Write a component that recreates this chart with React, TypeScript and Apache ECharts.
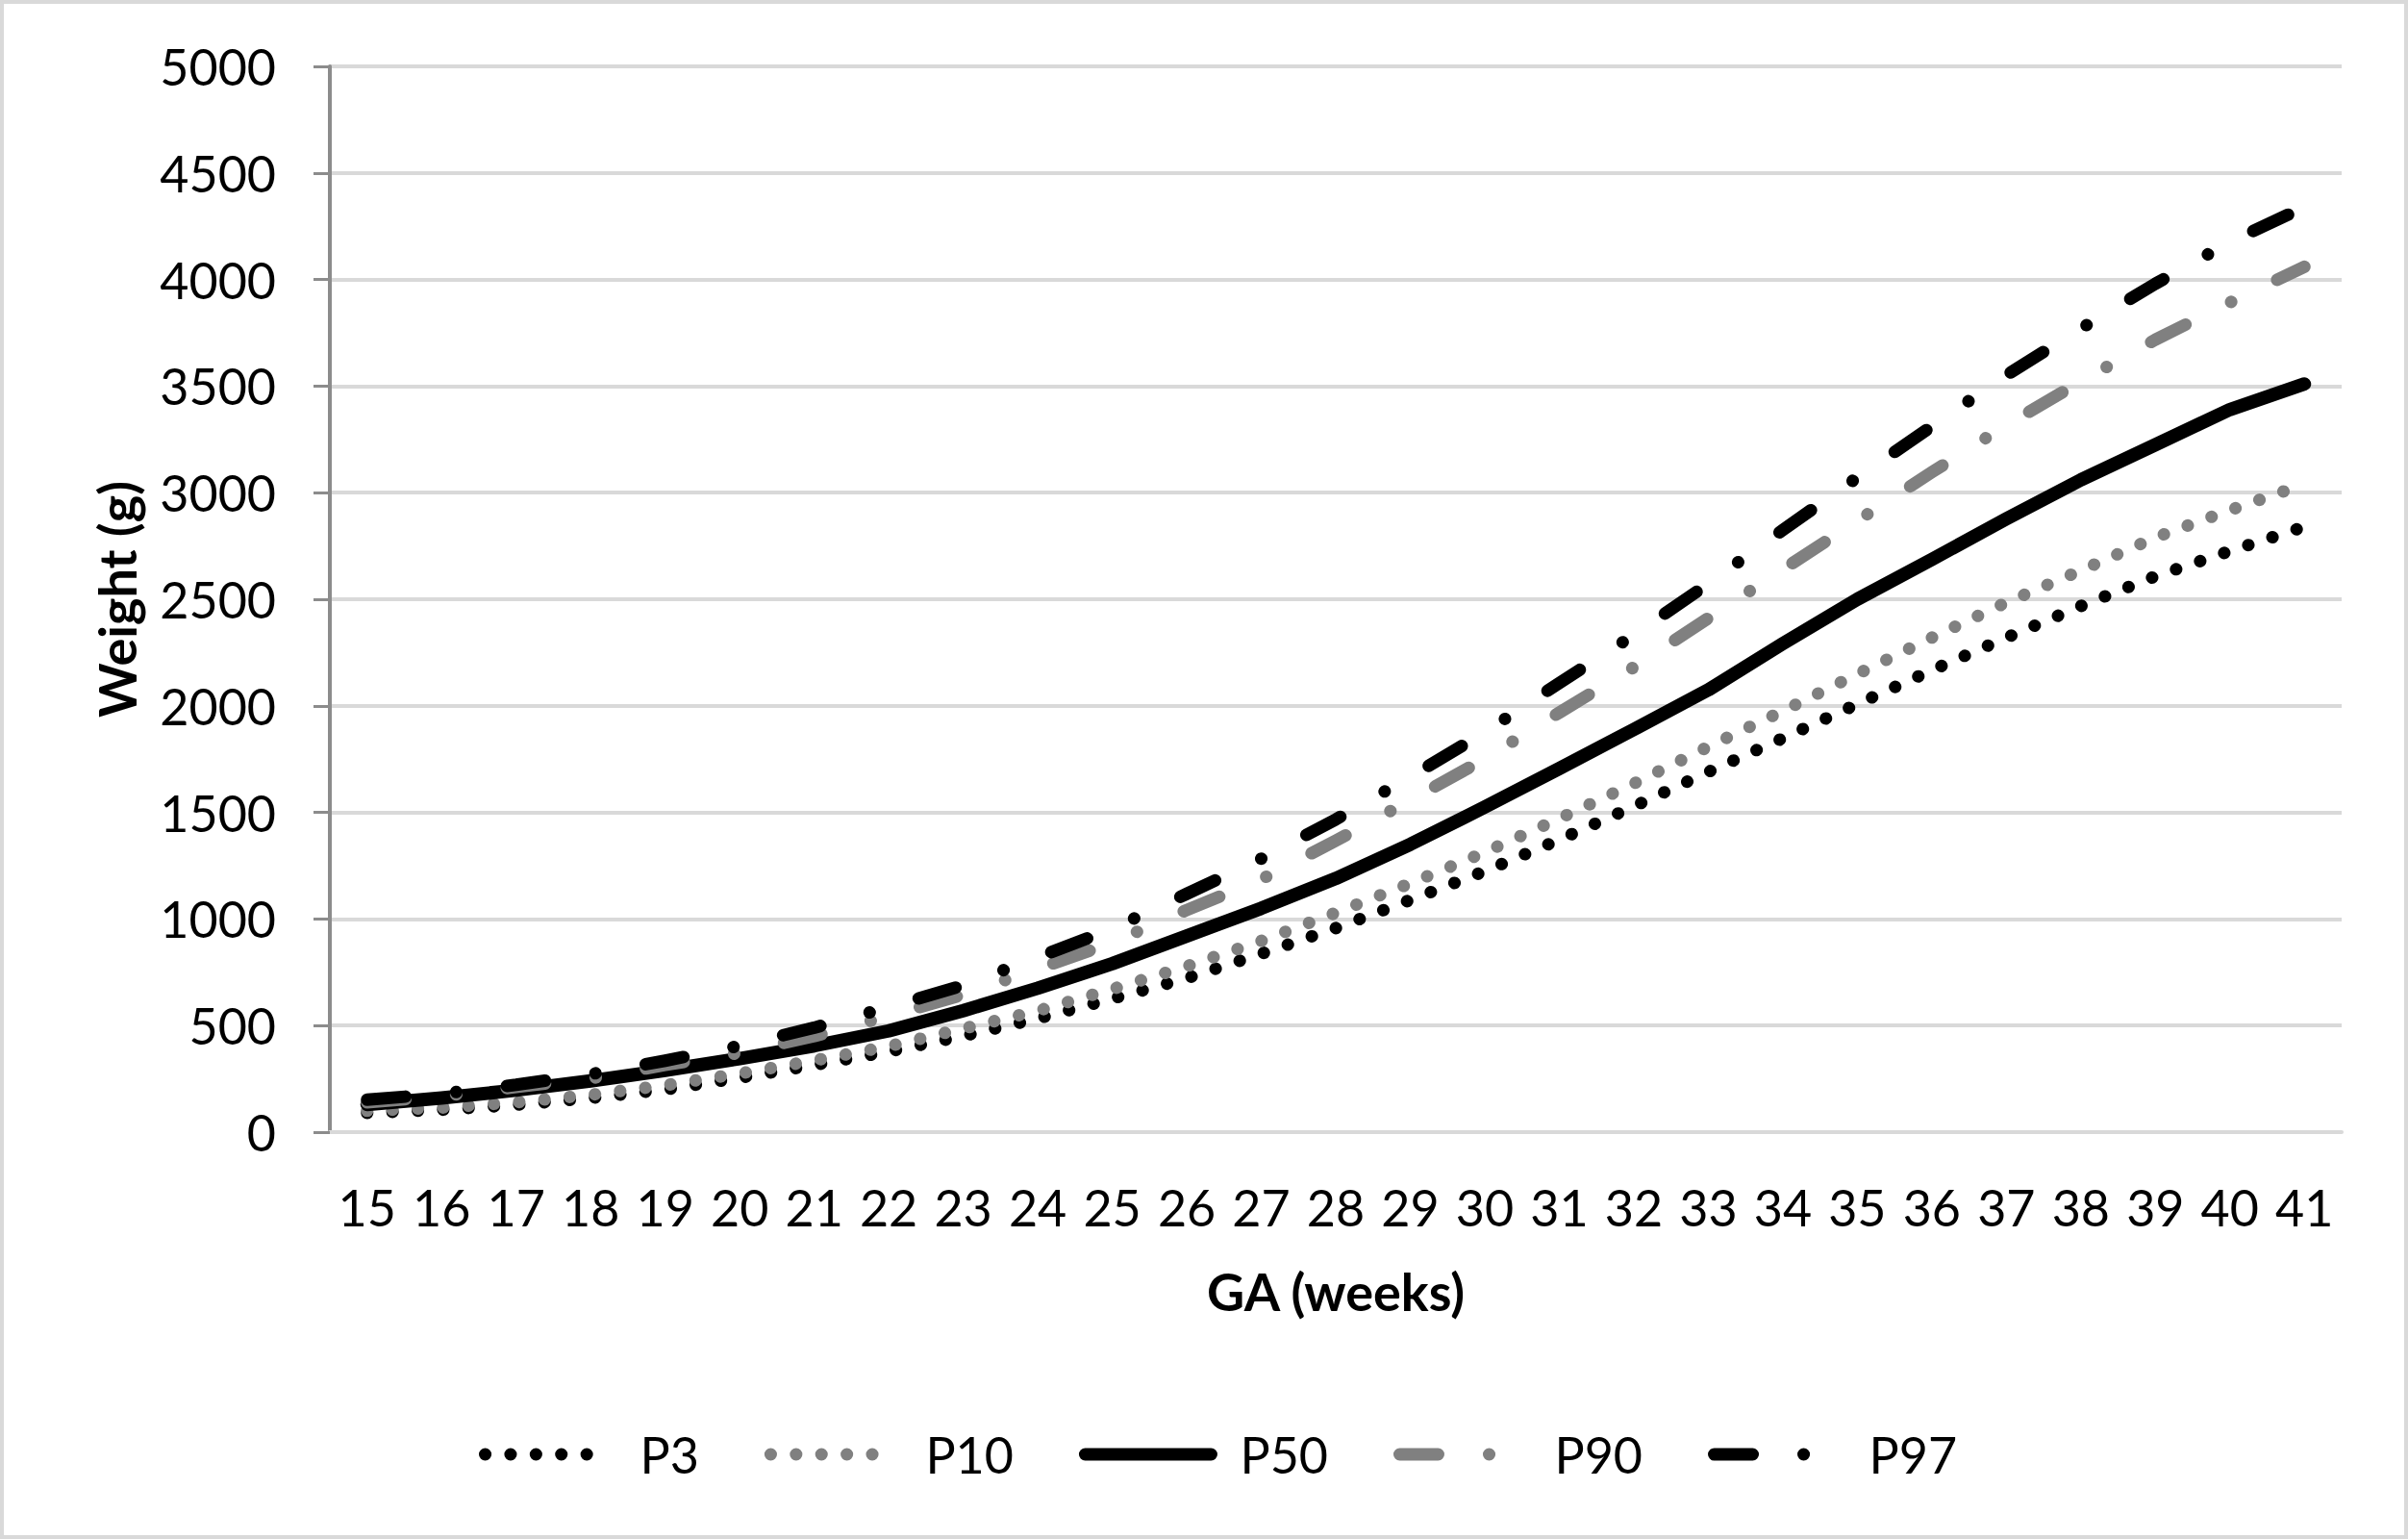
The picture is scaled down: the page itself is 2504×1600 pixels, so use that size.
import React, { useEffect, useRef } from "react";
import * as echarts from "echarts";

const weeks = ["15","16","17","18","19","20","21","22","23","24","25","26","27","28","29","30","31","32","33","34","35","36","37","38","39","40","41"];
const yTicks = [0, 500, 1000, 1500, 2000, 2500, 3000, 3500, 4000, 4500, 5000];

const p3 = [90, 105, 128, 160, 200, 255, 315, 378, 451, 533, 626, 722, 837, 957, 1089, 1224, 1372, 1528, 1690, 1848, 2008, 2167, 2320, 2468, 2608, 2726, 2840];
const p10 = [100, 115, 140, 175, 220, 275, 336, 403, 486, 569, 671, 778, 897, 1029, 1167, 1313, 1471, 1635, 1808, 1976, 2149, 2320, 2485, 2635, 2790, 2918, 3040];
const p50 = [130, 160, 197, 240, 290, 345, 405, 475, 570, 675, 790, 920, 1050, 1190, 1350, 1525, 1706, 1889, 2075, 2292, 2500, 2687, 2877, 3060, 3225, 3390, 3510];
const p90 = [140, 168, 212, 252, 315, 372, 450, 545, 645, 766, 889, 1042, 1186, 1367, 1557, 1751, 1968, 2181, 2411, 2640, 2868, 3096, 3317, 3522, 3718, 3892, 4060];
const p97 = [152, 180, 222, 272, 335, 405, 490, 586, 689, 820, 954, 1118, 1283, 1467, 1667, 1876, 2107, 2332, 2573, 2825, 3071, 3311, 3551, 3770, 3980, 4176, 4340];

const seriesNames = ["P3", "P10", "P50", "P90", "P97"];

export default function App() {
  const ref = useRef<HTMLDivElement>(null);
  useEffect(() => {
    document.body.style.margin = "0";
    if (!ref.current) return;
    const chart = echarts.init(ref.current, null, { renderer: "svg" });
    const dotDash = [0.1, 26.3];
    const dashDot = [40, 53, 0.1, 53];
    const mk = (name: string, data: number[], color: string, type: any, width: number) => ({
      name,
      type: "line",
      data,
      symbol: "none",
      showSymbol: false,
      smooth: false,
      lineStyle: { color, width, type, cap: "round", join: "round" },
      itemStyle: { color },
    });
    chart.setOption({
      animation: false,
      backgroundColor: "#ffffff",
      textStyle: { fontFamily: "Lato" },
      graphic: [
        {
          type: "rect",
          shape: { x: 2, y: 2, width: 2500, height: 1596 },
          style: { fill: "none", stroke: "#d9d9d9", lineWidth: 4 },
          silent: true,
        },
      ],
      grid: { left: 343, right: 69, top: 69, bottom: 423, containLabel: false },
      legend: {
        data: seriesNames,
        left: 493,
        top: 1481,
        itemWidth: 131,
        itemHeight: 40,
        itemGap: 68,
        lineStyle: { width: 13 },
        itemStyle: { color: "rgba(0,0,0,0)", borderColor: "rgba(0,0,0,0)", borderWidth: 0, opacity: 0 },
        textStyle: { fontSize: 52, fontFamily: "Lato", color: "#000", padding: [0, 0, 0, 25] },
      },
      xAxis: {
        type: "category",
        data: weeks,
        boundaryGap: true,
        name: "GA (weeks)",
        nameLocation: "middle",
        nameGap: 138,
        nameTextStyle: { fontSize: 54, fontWeight: "bold", fontFamily: "Lato", color: "#000" },
        axisLine: { show: true, lineStyle: { color: "#d9d9d9", width: 4 } },
        axisTick: { show: false },
        axisLabel: { fontSize: 52, fontFamily: "Lato", color: "#000", margin: 52, interval: 0 },
        splitLine: { show: false },
      },
      yAxis: {
        type: "value",
        min: yTicks[0],
        max: yTicks[yTicks.length - 1],
        interval: 500,
        name: "Weight (g)",
        nameLocation: "middle",
        nameGap: 195,
        nameRotate: 90,
        nameTextStyle: { fontSize: 54, fontWeight: "bold", fontFamily: "Lato", color: "#000" },
        axisLine: { show: true, lineStyle: { color: "#8c8c8c", width: 4 } },
        axisTick: { show: true, inside: false, length: 17, lineStyle: { color: "#8c8c8c", width: 3 } },
        axisLabel: {
          fontSize: 52,
          fontFamily: "Lato",
          color: "#000",
          margin: 56,
          formatter: (v: number) => String(v),
        },
        splitLine: { show: true, lineStyle: { color: "#d9d9d9", width: 4 } },
      },
      series: [
        mk("P3", p3, "#000000", dotDash, 13),
        mk("P10", p10, "#808080", dotDash, 13),
        mk("P50", p50, "#000000", "solid", 14),
        mk("P90", p90, "#808080", dashDot, 13),
        mk("P97", p97, "#000000", dashDot, 13),
      ],
    });
    return () => chart.dispose();
  }, []);
  return (
    <div
      ref={ref}
      style={{ position: "absolute", left: 0, top: 0, width: 2504, height: 1600 }}
    />
  );
}
